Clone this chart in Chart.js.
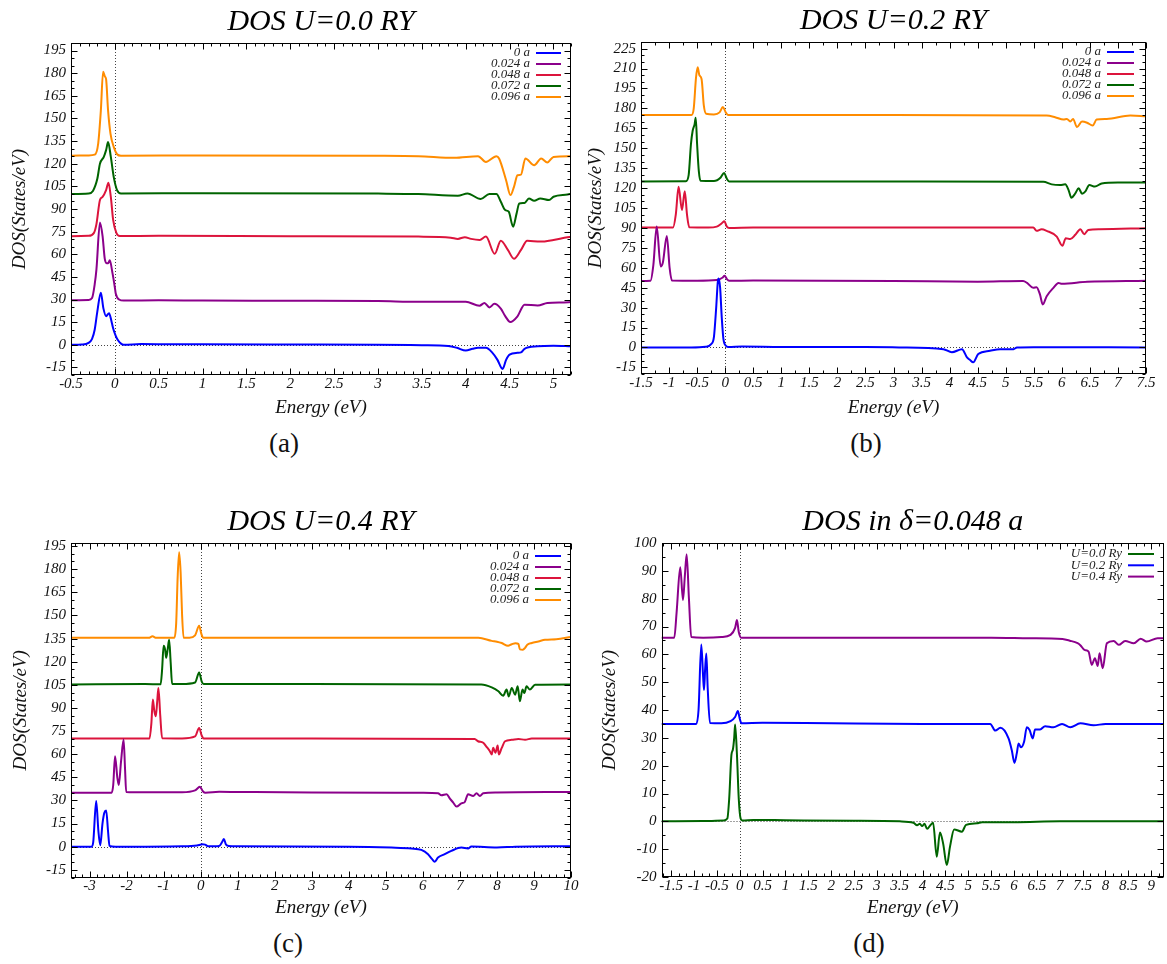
<!DOCTYPE html>
<html>
<head>
<meta charset="utf-8">
<script src="https://cdn.jsdelivr.net/npm/chart.js@4.4.1/dist/chart.umd.min.js"></script>
<style>
  body { margin: 0; background: #fff; width: 1167px; height: 964px; position: relative; overflow: hidden; }
  canvas { position: absolute; }
  .cap { position: absolute; font-family: 'Liberation Serif', 'DejaVu Serif', serif; font-size: 27px; line-height: 1; transform: translate(-50%, -50%); color: #111; }
</style>
</head>
<body>
<canvas id="chartA" width="585" height="420" style="left:0;top:0"></canvas>
<canvas id="chartB" width="582" height="420" style="left:585px;top:0"></canvas>
<canvas id="chartC" width="585" height="420" style="left:0;top:500px"></canvas>
<canvas id="chartD" width="582" height="420" style="left:585px;top:500px"></canvas>
<div class="cap" style="left:284px;top:443px">(a)</div>
<div class="cap" style="left:866px;top:443px">(b)</div>
<div class="cap" style="left:288px;top:943px">(c)</div>
<div class="cap" style="left:869px;top:943px">(d)</div>
<script>
// ---- data: [energy (eV), DOS (States/eV)] ----
const strainLabels = ['0 a', '0.024 a', '0.048 a', '0.072 a', '0.096 a'];
const uLabels = ['U=0.0 Ry', 'U=0.2 Ry', 'U=0.4 Ry'];

// (a) U = 0.0 Ry
const u00_0 = [[-0.5,0],[-0.38,0.2],[-0.3,1.3],[-0.26,4],[-0.23,10],[-0.2,22],[-0.16,34.5],[-0.13,24],[-0.1,19],[-0.066,21],[-0.04,16],[-0.02,11],[0.01,6],[0.036,3],[0.07,0.8],[0.1,0],[0.3,0.5],[0.6,0.4],[1,0.3],[2,0.2],[3,0.1],[3.5,-0.3],[3.8,-0.8],[3.9,-2],[4.0,-3.8],[4.08,-2.6],[4.14,-2],[4.23,-2],[4.3,-5],[4.36,-9.8],[4.42,-16],[4.46,-10],[4.5,-6.5],[4.59,-5.3],[4.63,-5],[4.67,-2.7],[4.82,-1],[5.0,-0.6],[5.2,-1]];
const u00_024 = [[-0.5,29.5],[-0.3,29.7],[-0.26,31],[-0.23,40],[-0.21,50],[-0.17,81],[-0.14,72],[-0.115,57],[-0.09,54],[-0.077,54],[-0.058,56],[-0.027,47.5],[0,38],[0.01,34],[0.048,30],[0.1,29.3],[0.5,29.5],[1,29.3],[2,29.2],[3,29],[3.46,28.5],[4.0,28.5],[4.157,25.9],[4.213,27.7],[4.27,24.8],[4.327,27.2],[4.4,24],[4.45,19],[4.508,15.1],[4.59,18.9],[4.67,26.6],[4.82,26.1],[4.93,27.7],[5.12,28.1],[5.2,28.3]];
const u00_048 = [[-0.5,72],[-0.3,72.2],[-0.24,74],[-0.21,80],[-0.17,96],[-0.14,98],[-0.1,102.5],[-0.073,107.4],[-0.046,98],[-0.02,83],[0.018,74],[0.056,72.1],[0.5,72.2],[2,72],[3.46,71.7],[3.83,71],[3.91,70.2],[3.99,71.3],[4.06,70.2],[4.16,69.5],[4.23,71.7],[4.33,60.3],[4.4,69],[4.48,62.9],[4.55,57],[4.63,62.9],[4.7,69],[4.85,68.4],[5.0,69.5],[5.16,71.3],[5.2,71.5]];
const u00_072 = [[-0.5,100],[-0.3,100.3],[-0.25,102],[-0.2,110],[-0.17,120],[-0.126,124.5],[-0.1,129],[-0.077,134.4],[-0.046,124.5],[-0.012,111],[0.025,102.5],[0.07,100.3],[1,100.5],[3,100.2],[3.46,99.9],[3.91,98.8],[4.02,100.3],[4.17,96.6],[4.27,99.9],[4.35,99.9],[4.4,94.8],[4.45,89.3],[4.49,88.2],[4.54,78.3],[4.58,87.1],[4.61,93.7],[4.67,94],[4.72,97],[4.78,95.5],[4.85,97],[4.95,95.9],[5.0,98.1],[5.16,99.6],[5.2,100]];
const u00_096 = [[-0.5,125.3],[-0.3,125.5],[-0.23,126],[-0.19,133.4],[-0.16,155],[-0.134,181],[-0.115,178],[-0.1,176],[-0.077,155],[-0.05,140],[-0.012,131],[0.025,126.3],[0.07,125.3],[1,125.5],[3,125.3],[3.46,125],[3.87,123.9],[4.14,125],[4.23,121.2],[4.35,125],[4.38,123.5],[4.46,109.1],[4.51,99.2],[4.55,104.7],[4.59,112.4],[4.63,112.8],[4.68,123.5],[4.78,119],[4.86,123.5],[4.93,120.8],[5.0,124.5],[5.2,125]];

// (b) U = 0.2 Ry
const u02_0 = [[-1.5,0],[-0.6,0],[-0.35,0.5],[-0.25,2.5],[-0.2,8],[-0.16,30],[-0.13,50],[-0.115,52],[-0.09,45],[-0.06,22],[-0.03,6],[0.02,1],[0.06,0.3],[0.3,0.7],[1,0.4],[2.5,0.3],[3.1,0],[3.89,-1.3],[4.04,-3.7],[4.22,-1.3],[4.31,-7.5],[4.36,-9.3],[4.42,-11.2],[4.51,-5],[4.72,-2.5],[4.9,-1.3],[5.14,-1.3],[5.2,0],[5.5,0.2],[7.5,0]];
const u02_024 = [[-1.5,50],[-1.33,50.3],[-1.28,62],[-1.22,91],[-1.15,61],[-1.11,64],[-1.04,84],[-0.99,60],[-0.95,50.5],[-0.5,50.3],[-0.15,50.8],[-0.05,52.5],[-0.01,54],[0.03,51.5],[0.07,50.2],[0.5,50.4],[3,50],[4.5,49.5],[5.31,50],[5.38,48.6],[5.49,44.9],[5.55,45.4],[5.61,39.9],[5.66,32.4],[5.73,38.6],[5.85,44.9],[5.94,48.6],[6.0,47.9],[6.45,49.4],[7.5,50.3]];
const u02_048 = [[-1.5,90.3],[-0.93,90.3],[-0.88,100],[-0.83,121],[-0.77,103.5],[-0.72,117.7],[-0.68,100],[-0.64,90.5],[-0.3,90.3],[-0.15,91],[-0.06,93.5],[-0.015,95],[0.03,91],[0.07,90],[0.5,90.3],[3,90.3],[5.49,90.3],[5.55,87.8],[5.64,89],[5.73,87.8],[5.91,83.5],[6.01,76.6],[6.07,82.3],[6.15,81.6],[6.24,84.8],[6.33,89],[6.4,85.3],[6.47,88.5],[6.68,89],[7.5,89.8]];
const u02_072 = [[-1.5,125],[-0.7,125.2],[-0.65,130],[-0.61,153],[-0.58,163],[-0.545,168],[-0.525,173],[-0.5,153],[-0.47,133],[-0.44,125.5],[-0.2,125.3],[-0.08,128],[-0.02,131.4],[0.03,127],[0.07,125],[3,125],[5.67,124.7],[5.82,122.8],[5.97,122.3],[6.06,122.8],[6.12,118.5],[6.17,112.7],[6.24,116],[6.3,119.8],[6.36,115.8],[6.42,117.5],[6.49,122.3],[6.59,121.1],[6.71,123.5],[7.0,124.2],[7.5,124.2]];
const u02_096 = [[-1.5,175],[-0.6,175],[-0.56,180],[-0.52,203],[-0.49,211],[-0.46,205],[-0.42,202],[-0.38,182],[-0.34,176],[-0.2,175.5],[-0.1,177],[-0.04,181],[0.01,177],[0.05,175],[3,175],[5.73,174.6],[5.88,173.4],[6.03,171.6],[6.09,172.1],[6.15,170.1],[6.2,172.1],[6.27,165.9],[6.36,170.1],[6.45,169.2],[6.55,167.1],[6.62,171.6],[6.8,172.1],[7.22,174.6],[7.5,174.1]];

// (c) U = 0.4 Ry
const u04_0 = [[-3.5,0],[-2.95,0],[-2.9,3],[-2.82,29.6],[-2.76,10],[-2.71,0.9],[-2.65,15],[-2.6,22],[-2.55,23.5],[-2.5,10],[-2.46,0.5],[-2.3,0],[-0.5,0.3],[-0.1,0.8],[0.05,1.5],[0.12,1.3],[0.2,0.3],[0.5,0.5],[0.58,3],[0.63,5],[0.68,1.5],[0.75,0.5],[1,0.2],[4,0],[5.15,-0.6],[5.69,-1.2],[5.96,-2.1],[6.14,-4.9],[6.25,-8.1],[6.32,-9.8],[6.41,-7],[6.59,-4.9],[6.77,-2.7],[7.04,-0.6],[7.22,-1.2],[7.31,0.1],[8,-0.5],[8.5,0],[10,0.3]];
const u04_024 = [[-3.5,35],[-2.4,35],[-2.36,40],[-2.31,58.7],[-2.25,45],[-2.21,40],[-2.15,55],[-2.08,69.5],[-2.04,50],[-2.01,35.5],[-1.5,35.3],[-0.5,35.3],[-0.15,36.5],[-0.02,38.8],[0.06,36],[0.13,35],[0.5,35.6],[1,35.5],[3,35.2],[6.0,35],[6.41,34.6],[6.5,33.3],[6.64,34],[6.73,31.2],[6.82,28.6],[6.91,26],[7.04,28.1],[7.13,28.9],[7.22,34],[7.36,32.8],[7.45,34.6],[7.54,32.8],[7.63,34.6],[8,35.2],[10,35.5]];
const u04_048 = [[-3.5,70.2],[-1.38,70.2],[-1.33,80],[-1.29,95.4],[-1.25,88],[-1.21,84.6],[-1.17,95],[-1.14,103],[-1.09,85],[-1.04,70.3],[-0.5,70.2],[-0.15,71.5],[-0.04,77],[0.03,72],[0.08,70.2],[3,70.2],[7.4,69.9],[7.49,68.4],[7.63,67.4],[7.72,64.8],[7.81,61.9],[7.86,59.8],[7.9,64.1],[7.96,60.9],[8.02,65.6],[8.05,59.8],[8.13,64.1],[8.22,68.4],[8.4,69.3],[8.58,69.9],[8.76,69.3],[8.94,70.2],[10,70.2]];
const u04_072 = [[-3.5,105.2],[-1.5,105.5],[-1.08,105.3],[-1.04,115],[-1.0,130.3],[-0.96,128],[-0.93,122.6],[-0.89,128],[-0.85,134.2],[-0.81,120],[-0.77,105.5],[-0.5,105.5],[-0.15,106.5],[-0.04,113],[0.03,107],[0.08,105.5],[3,105.5],[7.58,105.2],[7.86,103.3],[8.04,100.8],[8.17,97.9],[8.26,101.9],[8.32,97.5],[8.4,103],[8.49,98.6],[8.56,104],[8.62,94.3],[8.69,101.9],[8.74,99.7],[8.8,104],[8.89,101.9],[9.03,105],[10,105.2]];
const u04_096 = [[-3.5,135.5],[-1.4,135.5],[-1.3,136.5],[-1.2,135.5],[-0.71,135.5],[-0.66,145],[-0.62,175],[-0.58,191],[-0.54,178],[-0.5,150],[-0.46,135.6],[-0.3,135.5],[-0.15,137],[-0.04,143.3],[0.02,138],[0.07,135.5],[3,135.5],[7.5,135.5],[7.86,133.5],[8.0,133],[8.13,132.1],[8.3,130.3],[8.4,131.3],[8.5,132],[8.58,131.6],[8.62,128],[8.7,127.8],[8.76,129],[8.82,131],[8.94,132.1],[9.12,133.1],[9.3,134.2],[9.6,134.6],[10,136]];

// (d) delta = 0.048 a
const d048_u00 = [[-1.71,0],[-0.8,0.1],[-0.35,0.3],[-0.27,1],[-0.23,8],[-0.18,24],[-0.15,25.7],[-0.12,30],[-0.1,34.8],[-0.06,24],[-0.02,8],[0.02,1],[0.06,0.3],[0.3,0.5],[1,0.4],[2.5,0.2],[3.5,0],[3.8,-0.5],[3.88,-1.4],[3.94,-0.9],[3.99,-1.7],[4.04,-0.9],[4.1,-2.7],[4.17,-1.4],[4.23,-0.5],[4.31,-12.7],[4.38,-4],[4.45,-8],[4.53,-15.7],[4.6,-9.1],[4.69,-2.9],[4.86,-3.7],[4.95,-1.3],[5.19,-0.7],[5.3,-0.3],[6,-0.3],[7,0],[9.3,0]];
const d048_u02 = [[-1.71,35],[-0.95,35],[-0.9,40],[-0.84,63.5],[-0.8,52],[-0.78,47.2],[-0.755,55],[-0.73,60.3],[-0.7,48],[-0.65,35.3],[-0.4,35.2],[-0.2,36],[-0.1,37.5],[-0.04,39.6],[0.0,37],[0.04,35.2],[0.5,35.4],[2,35.2],[4,35],[5.48,35],[5.59,32.6],[5.7,33.6],[5.88,29.8],[5.95,25.6],[6.01,21],[6.06,24.4],[6.1,28],[6.15,26.6],[6.22,28.6],[6.28,33.8],[6.34,32.8],[6.41,29.8],[6.46,33],[6.57,33],[6.68,34.2],[6.86,33.8],[7.05,35],[7.23,33.8],[7.45,35.2],[7.74,34.5],[8,35],[9.3,35]];
const d048_u04 = [[-1.71,66],[-1.43,66],[-1.38,75],[-1.3,91.3],[-1.24,79.5],[-1.2,88],[-1.16,96],[-1.11,80],[-1.06,66.2],[-0.8,66],[-0.4,66.2],[-0.2,67],[-0.1,69.5],[-0.06,72.3],[-0.02,68],[0.03,66],[1,66],[3,66],[5.5,66],[6.33,65.8],[7.06,65.5],[7.22,64.9],[7.39,64],[7.45,63.3],[7.54,61.6],[7.63,61],[7.7,56.2],[7.77,58.6],[7.83,55.8],[7.87,60.4],[7.94,55],[8.03,64],[8.18,64.8],[8.29,63.4],[8.43,64.8],[8.62,64],[8.77,65.6],[8.9,64.6],[9.14,65.8],[9.3,65.8]];

const BLUE = '#0000ff', PURPLE = '#8b008b', RED = '#dc143c', GREEN = '#006400', ORANGE = '#ff8c00';
const strainColors = [BLUE, PURPLE, RED, GREEN, ORANGE];
const serif = "'Liberation Serif', 'DejaVu Serif', serif";

// frame, inward ticks, dotted zero lines and gnuplot-like key
const gnuFrame = {
  id: 'gnuFrame',
  beforeDatasetsDraw(chart) {
    const { ctx, chartArea: a, scales: { x, y } } = chart;
    const x0 = Math.round(x.getPixelForValue(0)) + 0.5;
    const y0 = Math.round(y.getPixelForValue(0)) + 0.5;
    ctx.save();
    ctx.strokeStyle = '#444';
    ctx.lineWidth = 1;
    ctx.setLineDash([1, 2]);
    ctx.beginPath();
    ctx.moveTo(x0, a.top); ctx.lineTo(x0, a.bottom);
    ctx.moveTo(a.left, y0); ctx.lineTo(a.right, y0);
    ctx.stroke();
    ctx.restore();
  },
  afterDatasetsDraw(chart, args, opts) {
    const { ctx, chartArea: a, scales: { x, y } } = chart;
    ctx.save();
    ctx.strokeStyle = '#000';
    ctx.lineWidth = 1;
    const L = Math.round(a.left) + 0.5, R = Math.round(a.right) - 0.5;
    const T = Math.round(a.top) + 0.5, B = Math.round(a.bottom) - 0.5;
    ctx.strokeRect(L, T, R - L, B - T);
    ctx.beginPath();
    [[x, opts.xMinor, true], [y, opts.yMinor, false]].forEach(([s, n, horiz]) => {
      const step = s.ticks[1].value - s.ticks[0].value;
      const sub = step / n;
      for (let k = Math.ceil(s.min / sub - 1e-6); k <= Math.floor(s.max / sub + 1e-6); k++) {
        const v = k * sub;
        const len = Math.abs(v / step - Math.round(v / step)) < 1e-6 ? 6 : 3;
        const p = Math.round(s.getPixelForValue(v)) + 0.5;
        if (horiz) {
          ctx.moveTo(p, B); ctx.lineTo(p, B - len);
          ctx.moveTo(p, T); ctx.lineTo(p, T + len);
        } else {
          ctx.moveTo(L, p); ctx.lineTo(L + len, p);
          ctx.moveTo(R, p); ctx.lineTo(R - len, p);
        }
      }
    });
    ctx.stroke();

    // key
    const k = opts.key;
    ctx.font = 'italic 13px ' + serif;
    ctx.textAlign = 'right';
    ctx.textBaseline = 'middle';
    chart.data.datasets.forEach((ds, i) => {
      const yy = a.top + k.top + i * k.row;
      const x2 = a.right - k.gap, x1 = x2 - k.len;
      ctx.fillStyle = '#222';
      ctx.fillText(ds.label, x1 - 6, yy);
      ctx.strokeStyle = ds.borderColor;
      ctx.lineWidth = 2;
      ctx.beginPath();
      ctx.moveTo(x1, yy); ctx.lineTo(x2, yy);
      ctx.stroke();
    });
    ctx.restore();
  }
};

const fmt = v => String(+v.toFixed(2));

function makeChart(id, p) {
  const tickFont = { family: serif, style: 'italic', size: 15 };
  const titleFont = { family: serif, style: 'italic', size: 19 };
  return new Chart(document.getElementById(id), {
    type: 'line',
    data: {
      datasets: p.series.map((s, i) => ({
        label: p.labels[i],
        data: s.map(pt => ({ x: pt[0], y: pt[1] })),
        borderColor: p.colors[i],
        borderWidth: 2,
        pointRadius: 0,
        cubicInterpolationMode: 'monotone',
        fill: false
      }))
    },
    plugins: [gnuFrame],
    options: {
      responsive: false,
      animation: false,
      events: [],
      layout: { padding: { left: 0, right: p.padRight, top: 0, bottom: 0 } },
      plugins: {
        legend: { display: false },
        tooltip: { enabled: false },
        title: {
          display: true, text: p.title, fullSize: false, color: '#000',
          font: { family: serif, style: 'italic', size: 30, weight: 'normal' },
          padding: { top: p.titleTop, bottom: p.titleH - 36 - p.titleTop }
        },
        gnuFrame: { xMinor: p.xMinor, yMinor: p.yMinor, key: p.key }
      },
      scales: {
        x: {
          type: 'linear', min: p.xMin, max: p.xMax,
          afterFit: s => { s.height = p.xH; },
          grid: { display: false, drawTicks: false },
          border: { display: false },
          ticks: { stepSize: p.xStep, autoSkip: false, maxRotation: 0, includeBounds: false, padding: 0, color: '#111', font: tickFont, callback: fmt },
          title: { display: true, text: 'Energy (eV)', color: '#111', font: titleFont, padding: { top: 0, bottom: 1 } }
        },
        y: {
          type: 'linear', min: p.yMin, max: p.yMax,
          afterFit: s => { s.width = p.yW; },
          grid: { display: false, drawTicks: false },
          border: { display: false },
          ticks: { stepSize: p.yStep, autoSkip: false, includeBounds: false, padding: 5, color: '#111', font: tickFont, callback: fmt },
          title: { display: true, text: 'DOS(States/eV)', color: '#111', font: titleFont, padding: { top: p.yTitlePad, bottom: 0 } }
        }
      }
    }
  });
}

makeChart('chartA', {
  title: 'DOS U=0.0 RY', labels: strainLabels, colors: strainColors,
  series: [u00_0, u00_024, u00_048, u00_072, u00_096],
  xMin: -0.5, xMax: 5.2, xStep: 0.5, xMinor: 5,
  yMin: -20, yMax: 200, yStep: 15, yMinor: 3,
  yW: 71, xH: 45, padRight: 14, titleH: 43, titleTop: 4, yTitlePad: 9,
  key: { top: 10, row: 11, gap: 10, len: 25 }
});
makeChart('chartB', {
  title: 'DOS U=0.2 RY', labels: strainLabels, colors: strainColors,
  series: [u02_0, u02_024, u02_048, u02_072, u02_096],
  xMin: -1.5, xMax: 7.5, xStep: 0.5, xMinor: 2,
  yMin: -20, yMax: 230, yStep: 15, yMinor: 3,
  yW: 56, xH: 46, padRight: 21, titleH: 42, titleTop: 3, yTitlePad: 0,
  key: { top: 10, row: 11, gap: 12, len: 27 }
});
makeChart('chartC', {
  title: 'DOS U=0.4 RY', labels: strainLabels, colors: strainColors,
  series: [u04_0, u04_024, u04_048, u04_072, u04_096],
  xMin: -3.5, xMax: 10, xStep: 1, xMinor: 5,
  yMin: -20, yMax: 197, yStep: 15, yMinor: 3,
  yW: 71, xH: 42.5, padRight: 14, titleH: 43, titleTop: 4, yTitlePad: 10,
  key: { top: 13, row: 11, gap: 10, len: 26 }
});
makeChart('chartD', {
  title: 'DOS in δ=0.048 a', labels: uLabels, colors: [GREEN, BLUE, PURPLE],
  series: [d048_u00, d048_u02, d048_u04],
  xMin: -1.71, xMax: 9.28, xStep: 0.5, xMinor: 3,
  yMin: -20, yMax: 100, yStep: 10, yMinor: 2,
  yW: 76.5, xH: 43, padRight: 3, titleH: 43, titleTop: 4, yTitlePad: 13.6,
  key: { top: 11, row: 11.3, gap: 10, len: 26 }
});
</script>
</body>
</html>
